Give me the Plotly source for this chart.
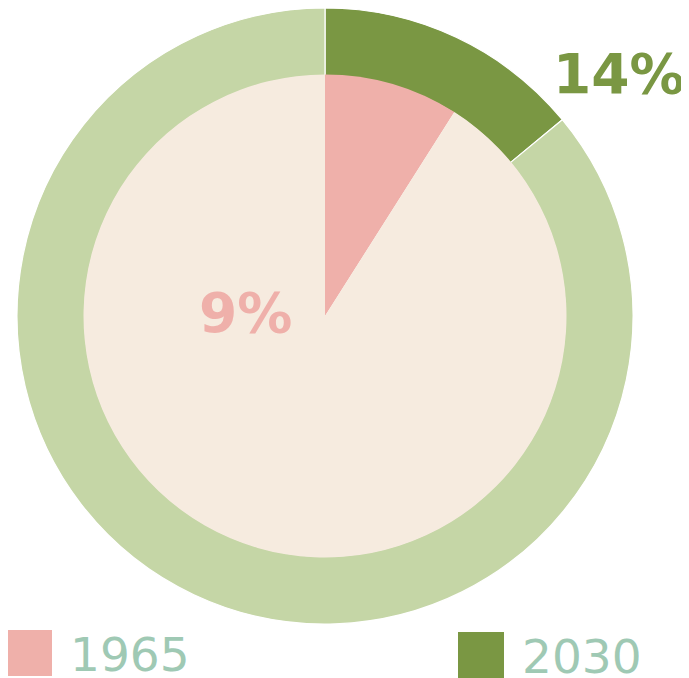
import plotly.graph_objects as go

years = ["1965", "2030"]
shares = [9, 14]
labels_pct = ["9%", "14%"]

# page body has an 8px margin; work in window pixels and shift into the figure
OFF = 8
W, H = 689 - OFF, 678 - OFF
pink, beige = "#efb0aa", "#f6ebdf"
dgreen, lgreen = "#7a9743", "#c5d6a6"
legend_col = "#9fc9b4"
font = "DejaVu Sans"

def fx(x):
    return (x - OFF) / W

def fy(y):
    return 1 - (y - OFF) / H

def px_dom(x0, x1, ytop, ybot):
    return dict(x=[fx(x0), fx(x1)], y=[fy(ybot), fy(ytop)])

fig = go.Figure()
# outer ring: 2030
fig.add_trace(go.Pie(
    values=[shares[1], 100 - shares[1]], labels=[years[1], "rest2030"],
    hole=0.78, sort=False, direction="clockwise", rotation=0,
    marker=dict(colors=[dgreen, lgreen], line=dict(color="white", width=1.2)),
    textinfo="none", hoverinfo="label+value", showlegend=False,
    domain=px_dom(17, 633, 8, 624),
))
# inner pie: 1965
fig.add_trace(go.Pie(
    values=[shares[0], 100 - shares[0]], labels=[years[0], "rest1965"],
    sort=False, direction="clockwise", rotation=0,
    marker=dict(colors=[pink, beige], line=dict(color="white", width=0)),
    textinfo="none", hoverinfo="label+value", showlegend=False,
    domain=px_dom(83.5, 566.5, 74.5, 557.5),
))

fig.add_annotation(x=fx(687), y=fy(74), xref="paper", yref="paper",
                   text="<b>" + labels_pct[1] + "</b>", showarrow=False,
                   xanchor="right", yanchor="middle",
                   font=dict(family=font, size=55, color=dgreen))
fig.add_annotation(x=fx(245), y=fy(313), xref="paper", yref="paper",
                   text="<b>" + labels_pct[0] + "</b>", showarrow=False,
                   font=dict(family=font, size=55, color=pink))

# legend
leg = [(years[0], pink, 6, 630), (years[1], dgreen, 458, 632)]
for name, col, x0, y0 in leg:
    fig.add_shape(type="rect", xref="paper", yref="paper",
                  x0=fx(x0), x1=fx(x0 + 46), y0=fy(y0 + 46), y1=fy(y0),
                  fillcolor=col, line=dict(width=0))
    fig.add_annotation(x=fx(x0 + 62), y=fy(y0 + 24), xref="paper", yref="paper",
                       text=name, showarrow=False, xanchor="left", yanchor="middle",
                       font=dict(family=font, size=47, color=legend_col))

fig.update_layout(width=W, height=H, margin=dict(l=0, r=0, t=0, b=0),
                  paper_bgcolor="white", plot_bgcolor="white", showlegend=False)
fig.write_html("out.html")
